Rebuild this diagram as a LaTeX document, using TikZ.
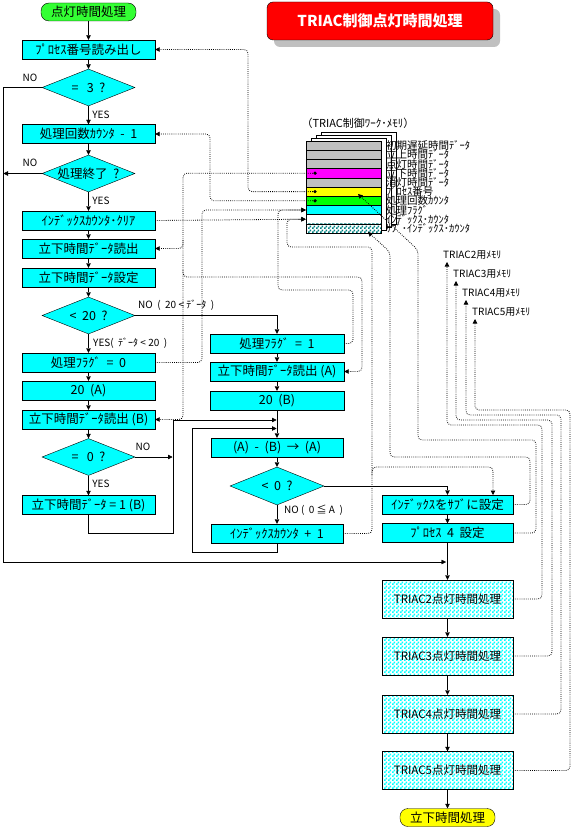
\documentclass[tikz,border=0pt]{standalone}
\usepackage{fontspec}
\setmainfont{Noto Sans CJK JP}
\usetikzlibrary{arrows.meta,shapes.geometric,patterns}
\definecolor{cyanA}{HTML}{00FFFF}
\definecolor{greenA}{HTML}{33FF33}
\definecolor{yellowA}{HTML}{FFFF00}
\definecolor{redA}{HTML}{FF0000}
\definecolor{grayA}{HTML}{C0C0C0}
\definecolor{magA}{HTML}{FF00FF}
\definecolor{grnA}{HTML}{00FF00}
\definecolor{tealA}{HTML}{008080}
\pgfdeclarepatternformonly{finechk}{\pgfpointorigin}{\pgfqpoint{4pt}{4pt}}{\pgfqpoint{4pt}{4pt}}{%
  \pgfpathrectangle{\pgfpointorigin}{\pgfqpoint{2pt}{2pt}}%
  \pgfpathrectangle{\pgfqpoint{2pt}{2pt}}{\pgfqpoint{2pt}{2pt}}%
  \pgfusepath{fill}}
\newcommand\bxfont{\fontsize{12.5}{13}\selectfont}
\newcommand\tbfont{\fontsize{11.5}{12}\selectfont}
\newcommand\lbfont{\fontsize{10}{11}\selectfont}
\newcommand\mmfont{\fontsize{10.5}{10.5}\selectfont}
\tikzset{
 box/.style={draw, fill=cyanA, minimum width=133pt, minimum height=19pt, inner sep=0pt, font=\bxfont},
 tbox/.style={draw, preaction={fill=white}, pattern=finechk, pattern color=cyanA, minimum width=131pt, minimum height=38pt, inner sep=0pt, font=\tbfont},
 dia/.style={draw, fill=cyanA, diamond, aspect=2.5, minimum width=93pt, minimum height=37pt, inner sep=0pt, font=\bxfont},
 term/.style={draw, rounded corners=8pt, minimum width=95pt, minimum height=18pt, inner sep=0pt, font=\fontsize{12.5}{13}\selectfont},
 arr/.style={-{Triangle[length=4.5pt,width=4.5pt]}},
 dl/.style={line width=0.8pt, dash pattern=on 0.8pt off 1.3pt, rounded corners=4pt},
 lab/.style={font=\lbfont, inner sep=0pt},
 mrow/.style={draw, minimum width=75pt, minimum height=9.2pt, inner sep=0pt},
 mlab/.style={font=\mmfont, anchor=west, inner sep=0pt},
 tml/.style={font=\lbfont, anchor=west, inner sep=0pt},
}
\begin{document}
\begin{tikzpicture}[x=1pt,y=-1pt]
\useasboundingbox (0,0) rectangle (572,829);
% title
\node[fill=grayA, rounded corners=6pt, minimum width=226pt, minimum height=38pt] (tsh) at (387,28) {};
\node[draw, fill=redA, rounded corners=6pt, minimum width=226pt, minimum height=38pt, text=white, font=\fontsize{15}{15}\selectfont\bfseries] (title) at (380,21) {TRIAC制御点灯時間処理};
% column 1
\node[term, fill=greenA] (s) at (88.5,12) {点灯時間処理};
\node[box] (b1) at (88.5,49.5) {ﾌﾟﾛｾｽ番号読み出し};
\node[dia] (d1) at (88.5,87.5) {=\ \ \ 3\ \ ?};
\node[box] (b2) at (88.5,134) {処理回数ｶｳﾝﾀ\ \ -\ \ 1};
\node[dia] (d2) at (88.5,173.5) {処理終了\ \ ?};
\node[box] (b3) at (88.5,220.5) {ｲﾝﾃﾞｯｸｽｶｳﾝﾀ･ｸﾘｱ};
\node[box] (b4) at (88.5,248.5) {立下時間ﾃﾞｰﾀ読出};
\node[box] (b5) at (88.5,277.5) {立下時間ﾃﾞｰﾀ設定};
\node[dia] (d3) at (88.5,315.5) {<\ \ 20\ \ ?};
\node[box] (b6) at (88.5,362.5) {処理ﾌﾗｸﾞ\ \ =\ \ 0};
\node[box] (b7) at (88.5,390.5) {20\ \ (A)};
\node[box] (b8) at (88.5,419.5) {立下時間ﾃﾞｰﾀ読出\ (B)};
\node[dia] (d4) at (88.5,457) {=\ \ \ 0\ \ ?};
\node[box] (b9) at (88.5,505) {立下時間ﾃﾞｰﾀ\ =\ 1\ (B)};
% column 2
\node[box, minimum width=134pt] (c1) at (277,343.5) {処理ﾌﾗｸﾞ\ \ =\ \ 1};
\node[box, minimum width=134pt] (c2) at (277,371.5) {立下時間ﾃﾞｰﾀ読出\ (A)};
\node[box, minimum width=134pt] (c3) at (277,400.5) {20\ \ (B)};
\node[box, minimum width=132pt] (c4) at (277,447.5) {(A)\ \ -\ \ (B)\ \ →\ \ (A)};
\node[dia, minimum width=94pt, minimum height=38pt] (d5) at (277,486) {<\ \ 0\ \ ?};
\node[box, minimum width=132pt] (c5) at (277,533.5) {ｲﾝﾃﾞｯｸｽｶｳﾝﾀ\ \ +\ \ 1};
% column 3
\node[box, minimum width=131pt] (e1) at (447.5,504.5) {ｲﾝﾃﾞｯｸｽをｻﾌﾞに設定};
\node[box, minimum width=131pt] (e2) at (447.5,533) {ﾌﾟﾛｾｽ\ \ 4\ \ 設定};
\node[tbox] (t2) at (447.5,599) {TRIAC2点灯時間処理};
\node[tbox] (t3) at (447.5,656) {TRIAC3点灯時間処理};
\node[tbox] (t4) at (447.5,714) {TRIAC4点灯時間処理};
\node[tbox] (t5) at (447.5,770.5) {TRIAC5点灯時間処理};
\node[term, fill=yellowA] (en) at (447.5,817.5) {立下時間処理};
% labels
\node[lab] (l1) at (30,78) {NO};
\node[lab] (l2) at (101,115) {YES};
\node[lab] (l3) at (30,163) {NO};
\node[lab] (l4) at (101,201) {YES};
\node[lab, anchor=west] (l5) at (138,305) {NO\ \ (\ \ 20\ <\ ﾃﾞｰﾀ\ \ )};
\node[lab, anchor=west] (l6) at (93,343) {YES(\ \ ﾃﾞｰﾀ\ <\ 20\ \ )};
\node[lab] (l7) at (143,447) {NO};
\node[lab] (l8) at (101,484) {YES};
\node[lab, anchor=west] (l9) at (284,510) {NO\ (\ \ 0\ ≦\ A\ \ )};
% solid flow
\draw[arr] (s) -- (b1);
\draw[arr] (b1) -- (d1);
\draw[arr] (d1) -- (b2);
\draw[arr] (b2) -- (d2);
\draw[arr] (d2) -- (b3);
\draw[arr] (b3) -- (b4);
\draw[arr] (b4) -- (b5);
\draw[arr] (b5) -- (d3);
\draw[arr] (d3) -- (b6);
\draw[arr] (b6) -- (b7);
\draw[arr] (b7) -- (b8);
\draw[arr] (b8) -- (d4);
\draw[arr] (d4) -- (b9);
\draw[arr] (d1.west) -- (3,87.5) -- (3,562) -- (446,562);
\draw[arr] (d2.west) -- (3.5,173.5);
\draw[arr] (d3.east) -- (277,315.5) -- (c1.north);
\draw[arr] (c1) -- (c2);
\draw[arr] (c2) -- (c3);
\draw[arr] (c3) -- (c4);
\draw[arr] (b9.south) -- (88.5,533) -- (173,533) -- (173,420) -- (276.5,420);
\draw[arr] (d4.east) -- (172.5,457);
\draw[arr] (c5.south) -- (277,552) -- (192,552) -- (192,428.5) -- (276.5,428.5);
\draw[arr] (c4) -- (d5);
\draw[arr] (d5) -- (c5);
\draw[arr] (d5.east) -- (447.5,486) -- (e1.north);
\draw[arr] (e1) -- (e2);
\draw[arr] (e2) -- (t2);
\draw[arr] (t2) -- (t3);
\draw[arr] (t3) -- (t4);
\draw[arr] (t4) -- (t5);
\draw[arr] (t5) -- (en);
% memory block
\node[font=\fontsize{11}{11}\selectfont, inner sep=0pt] (mt) at (358,123) {（TRIAC制御ﾜｰｸ･ﾒﾓﾘ）};
\draw[fill=white] (321,132) rectangle (396,224);
\draw[fill=white] (316,135) rectangle (391,227);
\draw[fill=white] (311,138) rectangle (386,230);
\node[mrow, fill=grayA] (m1) at (343.5,145.6) {};
\node[mrow, fill=grayA] (m2) at (343.5,154.8) {};
\node[mrow, fill=grayA] (m3) at (343.5,164.0) {};
\node[mrow, fill=magA] (m4) at (343.5,173.2) {};
\node[mrow, fill=grayA] (m5) at (343.5,182.4) {};
\node[mrow, fill=yellowA] (m6) at (343.5,191.6) {};
\node[mrow, fill=grnA] (m7) at (343.5,200.8) {};
\node[mrow, fill=cyanA] (m8) at (343.5,210.0) {};
\node[mrow, fill=white] (m9) at (343.5,219.2) {};
\node[mrow, preaction={fill=white}, pattern=finechk, pattern color=tealA] (m10) at (343.5,228.4) {};
\node[mlab] (n1) at (386,145.6) {初期遅延時間ﾃﾞｰﾀ};
\node[mlab] (n2) at (386,154.8) {立上時間ﾃﾞｰﾀ};
\node[mlab] (n3) at (386,164.0) {点灯時間ﾃﾞｰﾀ};
\node[mlab] (n4) at (386,173.2) {立下時間ﾃﾞｰﾀ};
\node[mlab] (n5) at (386,182.4) {消灯時間ﾃﾞｰﾀ};
\node[mlab] (n6) at (386,191.6) {ﾌﾟﾛｾｽ番号};
\node[mlab] (n7) at (386,200.8) {処理回数ｶｳﾝﾀ};
\node[mlab] (n8) at (386,210.0) {処理ﾌﾗｸﾞ};
\node[mlab] (n9) at (386,219.2) {ｲﾝﾃﾞｯｸｽ･ｶｳﾝﾀ};
\node[mlab] (n10) at (386,228.4) {ｻﾌﾞ･ｲﾝﾃﾞｯｸｽ･ｶｳﾝﾀ};
\coordinate (p4) at (315,173.2);
\coordinate (p6) at (315,191.6);
\coordinate (p7) at (315,200.8);
\fill (p4) circle (1.8pt);
\fill (p6) circle (1.8pt);
\fill (p7) circle (1.8pt);
\coordinate (q6) at (358,194);
\coordinate (q10) at (368,232);
% TRIAC memory labels
\node[tml] (k2) at (443,255) {TRIAC2用ﾒﾓﾘ};
\node[tml] (k3) at (453,274) {TRIAC3用ﾒﾓﾘ};
\node[tml] (k4) at (462,293) {TRIAC4用ﾒﾓﾘ};
\node[tml] (k5) at (472,312) {TRIAC5用ﾒﾓﾘ};
% dotted data lines
\draw[dl,arr] (p6) -- (248,191.6) -- (248,49.5) -- (b1.east);
\draw[dl,arr] (p7) -- (210,200.8) -- (210,134) -- (b2.east);
\draw[dl,arr] (b3.east) -- (m9.west);
\draw[dl,arr] (p4) -- (183,173.2) -- (183,248.5) -- (b4.east);
\draw[dl,arr] (183,240) -- (183,419.5) -- (b8.east);
\draw[dl,arr] (183,270) -- (183,277) -- (362,277) -- (362,371.5) -- (c2.east);
\draw[dl,arr] (b6.east) -- (202,362.5) -- (202,210) -- (m8.west);
\draw[dl,arr] (c1.east) -- (353,343.5) -- (353,290) -- (278,290) -- (278,210) -- (m8.west);
\draw[dl,arr] (c5.east) -- (372,533.5) -- (372,247) -- (287,247) -- (287,219.2) -- (m9.west);
\draw[dl,arr] (372,475) -- (372,467) -- (493,467) -- (493,495);
\draw[dl,arr] (e1.east) -- (530,504.5) -- (530,457) -- (390,457) -- (390,252) -- (q10);
\draw[dl,arr] (e2.east) -- (536,533) -- (536,440) -- (418,440) -- (418,250) -- (q6);
\draw[dl,arr] (t2.east) -- (542,599) -- (542,425) -- (447,425) -- (447,262);
\draw[dl,arr] (t3.east) -- (552,656) -- (552,420) -- (456,420) -- (456,281);
\draw[dl,arr] (t4.east) -- (561,714) -- (561,415) -- (466,415) -- (466,300);
\draw[dl,arr] (t5.east) -- (570,770.5) -- (570,410) -- (475,410) -- (475,319);
\end{tikzpicture}
\end{document}
